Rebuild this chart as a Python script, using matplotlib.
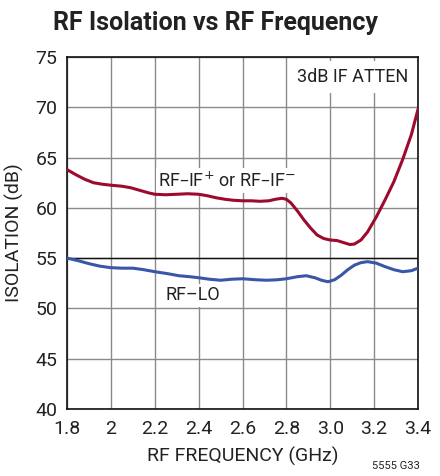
import matplotlib
matplotlib.use('Agg')
import matplotlib.pyplot as plt

# 字体：没有 Helvetica Condensed，用 Roboto 代替
plt.rcParams['font.family'] = ['Roboto', 'DejaVu Sans']

# RF-IF 隔离度
freq_if = [1.80, 1.84, 1.88, 1.92, 1.96, 2.00, 2.05, 2.09, 2.13, 2.17, 2.20, 2.25, 2.30,
           2.35, 2.40, 2.44, 2.48, 2.52, 2.56, 2.60, 2.64, 2.68, 2.72, 2.75, 2.78, 2.80,
           2.82, 2.85, 2.88, 2.91, 2.94, 2.97, 3.00, 3.03, 3.06, 3.09, 3.11, 3.14, 3.17,
           3.21, 3.25, 3.29, 3.33, 3.37, 3.40]
iso_if = [63.8, 63.3, 62.85, 62.5, 62.35, 62.25, 62.15, 62.0, 61.75, 61.5, 61.35, 61.3, 61.35,
          61.4, 61.35, 61.2, 61.0, 60.85, 60.75, 60.7, 60.7, 60.65, 60.7, 60.85, 60.95, 60.85,
          60.5, 59.7, 58.8, 58.0, 57.3, 56.95, 56.8, 56.75, 56.55, 56.35, 56.4, 56.8, 57.6,
          59.1, 60.8, 62.6, 64.8, 67.3, 69.8]

# RF-LO 隔离度
freq_lo = [1.80, 1.85, 1.90, 1.95, 2.00, 2.05, 2.10, 2.15, 2.20, 2.26, 2.31, 2.36, 2.40,
           2.45, 2.50, 2.55, 2.60, 2.66, 2.71, 2.76, 2.80, 2.85, 2.89, 2.93, 2.96, 2.99,
           3.02, 3.05, 3.08, 3.11, 3.14, 3.17, 3.21, 3.25, 3.29, 3.33, 3.37, 3.40]
iso_lo = [55.0, 54.75, 54.45, 54.2, 54.05, 54.0, 54.0, 53.85, 53.65, 53.45, 53.25, 53.15, 53.05,
          52.9, 52.8, 52.9, 52.95, 52.85, 52.8, 52.85, 52.95, 53.15, 53.25, 53.05, 52.8, 52.65,
          52.85, 53.3, 53.85, 54.3, 54.55, 54.65, 54.5, 54.15, 53.85, 53.65, 53.75, 54.0]

x_ticks = [1.8, 2.0, 2.2, 2.4, 2.6, 2.8, 3.0, 3.2, 3.4]
x_labels = ['1.8', '2', '2.2', '2.4', '2.6', '2.8', '3.0', '3.2', '3.4']
y_ticks = [40, 45, 50, 55, 60, 65, 70, 75]

fig = plt.figure(figsize=(4.4, 4.76), dpi=100)
ax = fig.add_axes([0.1523, 0.1408, 0.7977, 0.7395])

ax.set_xlim(1.8, 3.4)
ax.set_ylim(40, 75)
ax.set_xticks(x_ticks)
ax.set_xticklabels(x_labels)
ax.set_yticks(y_ticks)
ax.tick_params(axis='x', length=0, labelsize=14, pad=8, colors='#222222')
ax.tick_params(axis='y', length=0, labelsize=14, pad=7, colors='#222222')
ax.grid(True, color='#8a8a8a', lw=1.0)
ax.set_axisbelow(True)
ax.axhline(55, color='#111111', lw=1.0, zorder=1.5)
for s in ax.spines.values():
    s.set_color('#111111')
    s.set_linewidth(1.2)

ax.plot(freq_if, iso_if, color='#9c0a2e', lw=2.2, solid_capstyle='round', zorder=3)
ax.plot(freq_lo, iso_lo, color='#3a56a8', lw=2.2, solid_capstyle='round', zorder=3)

box = dict(facecolor='white', edgecolor='none', pad=2)
ax.text(3.10, 73.0, '3dB IF ATTEN', fontsize=13, ha='center', va='center',
        color='#222222', bbox=dict(facecolor='white', edgecolor='none', pad=5), zorder=2)
ax.text(2.53, 62.7, 'RF–IF$^{+}$ or RF–IF$^{-}$', fontsize=13, ha='center', va='center',
        color='#222222', bbox=box, zorder=2)
ax.text(2.375, 51.3, 'RF–LO', fontsize=13, ha='center', va='center',
        color='#222222', bbox=box, zorder=2)

ax.set_xlabel('RF FREQUENCY (GHz)', fontsize=14, color='#222222', labelpad=6)
ax.set_ylabel('ISOLATION (dB)', fontsize=14, color='#222222', labelpad=8)

fig.text(0.49, 0.952, 'RF Isolation vs RF Frequency', fontsize=18, fontweight='bold',
         ha='center', va='center', color='#222222')
fig.text(0.955, 0.022, '5555 G33', fontsize=8, ha='right', va='center', color='#222222')

fig.savefig('out.png', dpi=100)
